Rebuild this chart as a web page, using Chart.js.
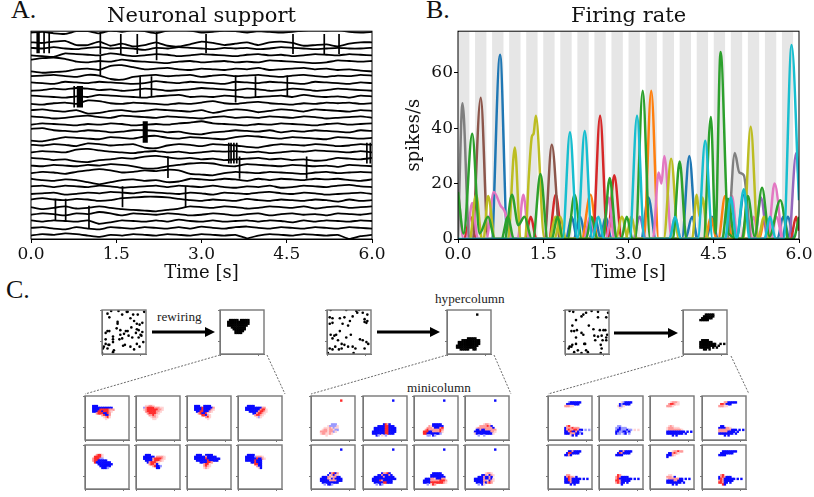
<!DOCTYPE html>
<html>
<head>
<meta charset="utf-8">
<title>Neuronal support and firing rate</title>
<script src="https://cdn.jsdelivr.net/npm/chart.js@4"></script>
<style>
  html, body { margin: 0; padding: 0; background: #fff; overflow: hidden; }
  #page { position: relative; width: 814px; height: 497px; }
  #page canvas { position: absolute; }
  .blurry { filter: blur(0.45px); }
  .soft { filter: blur(0.3px); }
  .note { position: absolute; font-family: "Liberation Serif", serif; color: #222; white-space: nowrap; }
  .letter { font-size: 26px; color: #111; }
  .small { font-size: 13.2px; }
  svg { position: absolute; left: 0; top: 0; pointer-events: none; }
</style>
</head>
<body>
<div id="page">
  <div class="note letter" style="left:11px;top:-5px">A.</div>
  <div class="note letter" style="left:426px;top:-5px">B.</div>
  <div class="note letter" style="left:6px;top:275px">C.</div>
  <div class="note small" style="left:157px;top:309px">rewiring</div>
  <div class="note small" style="left:435px;top:291px">hypercolumn</div>
  <div class="note small" style="left:407px;top:380px">minicolumn</div>
  <svg width="814" height="497">
    <g stroke="#444" stroke-width="0.8" stroke-dasharray="2 1.5" fill="none">
      <path d="M220 355 L85 394 M267 355 L285 394"/>
      <path d="M447 355 L311 394 M494 355 L511 394"/>
      <path d="M683 356 L548 394 M731 356 L749 394"/>
    </g>
    <g stroke="#000" stroke-width="3" fill="#000">
      <path d="M152 332 L206 332"/><path d="M205 327 L215 332 L205 337 Z" stroke="none"/>
      <path d="M377 332 L431 332"/><path d="M430 327 L440 332 L430 337 Z" stroke="none"/>
      <path d="M614 333 L669 333"/><path d="M668 328 L678 333 L668 338 Z" stroke="none"/>
    </g>
  </svg>
</div>

<script>
// ---- Panel A: membrane traces, offsets in tenths of a row, one sample each 0.2 s
const traceTimes = [0,0.2,0.4,0.6,0.8,1,1.2,1.4,1.6,1.8,2,2.2,2.4,2.6,2.8,3,3.2,3.4,3.6,3.8,4,4.2,4.4,4.6,4.8,5,5.2,5.4,5.6,5.8,6];
const traceOffsets = [
  [-2,-3,-1,0,-4,-4,-1,-5,-3,-6,-4,-1,-5,-6,-5,-2,-3,-5,-4,-2,-4,-3,-2,-3,-5,-6,-5,-6,-3,-2,-3],
  [2,3,1,0,6,6,1,7,4,8,6,2,7,8,5,1,3,6,4,2,6,2,1,3,7,6,5,8,4,2,2],
  [0,1,-1,1,2,0,-1,1,0,1,3,0,1,-1,0,1,2,0,1,0,2,1,-1,0,1,2,1,0,1,1,0],
  [1,2,3,-2,-1,0,1,-2,0,2,1,-1,0,2,1,-1,0,1,2,0,-1,1,0,2,1,-1,0,1,-1,0,1],
  [-3,-5,-6,-4,0,1,-1,0,-3,-1,0,1,2,0,-1,1,0,-1,1,0,1,-2,-1,0,1,2,1,-2,-1,0,-1],
  [4,6,5,4,1,0,2,-4,-5,-2,1,0,-1,1,2,0,1,2,0,1,-1,2,1,0,-1,1,0,2,1,3,4],
  [1,0,-1,1,2,-1,0,5,6,2,0,-1,1,0,-1,2,0,-1,1,0,-1,1,2,0,-1,1,2,0,1,-1,0],
  [0,1,2,-1,0,1,-1,0,1,2,1,-2,0,1,-1,0,1,2,-1,0,1,-1,0,1,2,-1,0,1,2,0,1],
  [2,1,-1,0,-2,-1,1,0,2,1,-1,0,2,1,0,-2,-1,0,1,-1,0,2,1,-1,0,2,1,-1,0,1,2],
  [-1,0,1,2,0,1,-2,-1,0,1,2,0,-1,-2,1,0,1,-1,0,2,1,0,-1,1,-2,0,1,0,2,-1,0],
  [1,2,0,-1,1,-4,-3,0,1,-1,0,1,2,0,1,-1,-3,0,1,-1,-2,0,1,2,0,1,-1,0,-1,1,0],
  [0,-1,1,2,0,5,4,1,0,2,1,-1,0,1,2,0,4,1,-1,0,3,1,-1,0,2,-1,0,1,2,0,1],
  [-1,0,2,1,-1,-2,0,1,-2,-1,0,1,-1,0,1,2,0,-1,1,0,1,-1,0,1,-1,0,2,1,0,-1,1],
  [1,-1,0,1,2,0,1,-1,0,2,1,0,1,-1,-2,-4,-1,0,1,2,0,1,-1,0,1,2,0,-1,1,0,-1],
  [-3,-4,-1,0,1,-1,0,2,1,-1,-1,0,2,1,4,5,2,1,-1,0,1,-1,2,0,1,-1,0,1,2,-1,0],
  [4,5,2,-1,0,1,2,-1,0,1,-2,-3,0,1,-1,0,1,2,-1,-3,-2,0,1,-1,0,1,2,-1,0,1,0],
  [0,1,-1,0,2,-2,-1,1,0,-1,4,5,1,-1,0,2,-1,0,1,3,4,1,-1,0,1,-1,0,2,1,-1,0],
  [1,-1,0,1,-3,-4,-2,0,1,2,0,-1,1,0,2,1,-1,0,-1,1,0,2,1,-1,0,-2,-1,0,1,-1,1],
  [-1,0,2,1,4,5,2,1,-1,0,-3,-4,-2,0,-1,1,0,2,1,0,-1,1,0,2,1,3,2,-1,0,1,-1],
  [0,1,-1,0,1,-1,0,-2,-1,1,4,4,1,-1,-3,-4,-3,0,1,-2,-1,0,1,-1,0,1,0,2,-1,0,1],
  [1,-1,0,2,-1,-3,-5,-3,0,-1,-3,-2,-4,-3,2,3,4,1,-1,0,1,-1,0,1,2,0,-1,1,0,-1,0],
  [-1,1,2,0,1,4,7,4,1,0,2,1,4,3,-1,0,1,-1,0,2,-1,1,-1,0,1,-1,0,-1,1,2,0],
  [0,-1,1,-1,0,1,-1,0,2,1,0,-1,1,-1,0,1,-1,1,2,0,1,-1,2,1,-1,0,1,-1,-2,0,1],
  [1,0,-1,2,1,-1,0,-2,-1,0,-2,-1,0,1,-1,0,2,-1,0,1,-1,-2,0,1,-1,0,2,1,0,-1,1],
  [-1,-3,-1,0,-2,-1,1,0,-3,-4,-5,-5,-4,-2,0,1,-1,0,1,-2,0,1,-1,0,1,-1,0,2,-1,1,0],
  [0,3,1,-1,2,1,-1,1,3,4,5,6,4,2,-1,0,1,-1,0,2,1,-1,0,1,-1,2,0,-1,1,0,-1],
  [1,-1,0,2,-1,0,-3,-1,2,-1,0,1,-1,0,2,1,-1,0,2,0,-1,2,0,-1,1,0,2,-1,0,1,-1],
  [-1,1,-1,0,1,-1,4,2,-1,0,1,-1,1,-2,0,1,-1,1,0,-1,1,-1,0,2,-1,1,-1,0,1,-1,0],
  [0,-1,1,2,-1,1,2,-1,0,1,-1,0,1,-1,1,-2,0,1,-1,-2,0,1,-1,0,1,-1,0,1,-1,0,1],
  [1,-1,0,-2,-1,1,3,0,1,-1,0,1,-1,0,1,-1,0,1,0,5,1,-1,0,1,-1,0,1,0,6,2,0]
];
const eventTimes = [0.11,0.14,0.23,0.32,1.22,1.22,1.58,1.87,2.21,3.08,4.61,5.16,5.42,1.92,2.12,3.60,3.95,4.51,0.76,0.82,0.84,0.86,0.88,0.90,1.98,2.00,2.02,2.04,3.48,3.52,3.57,3.62,3.67,2.41,4.85,5.91,5.97,1.61,2.72,0.43,0.61,1.02];
const eventFrom  = [-0.3,-0.3,-0.3,-0.3,-0.3,3.1,0,0,-0.3,0,0,0,0,6.1,6.1,6,6.1,6,7.5,7.5,7.5,7.5,7.5,7.5,12.6,12.6,12.6,12.6,15.7,15.7,15.7,15.7,17.7,17.7,17.7,15.7,15.7,22,22,23.8,23.8,24.8];
const eventTo    = [2.8,2.8,2.8,2.8,2.9,6,2.9,2.9,3.8,2.8,2.9,2.9,2.9,9.1,9.1,9.9,9.1,9.1,10.6,10.6,10.6,10.6,10.6,10.6,15.7,15.7,15.7,15.7,18.7,18.7,18.7,18.7,20.9,20.8,20.9,18.7,18.7,25,25,27,27,28];
const timeTicks = [0,1.5,3,4.5,6];

// ---- Panel B: firing rate, spikes/s at hand-read knots
const rateTicks = [0,20,40,60];
const bandStarts = [0,0.3,0.6,0.9,1.2,1.5,1.8,2.1,2.4,2.7,3,3.3,3.6,3.9,4.2,4.5,4.8,5.1,5.4,5.7];
const bandEnds   = [0.2,0.5,0.8,1.1,1.4,1.7,2,2.3,2.6,2.9,3.2,3.5,3.8,4.1,4.4,4.7,5,5.3,5.6,5.9];

const blueT = [0.61,0.74,0.87,1.9,2.0,2.1,2.5,2.6,2.7,3.22,3.35,3.48,3.94,4.07,4.2,4.37,4.47,4.57,4.9,5.03,5.16,5.7,5.8,5.9];
const blueR = [0,66.5,0,0,8,0,0,8,0,0,15,0,0,30,0,0,8,0,0,16,0,0,8,0];
const orangeT = [2.2,2.33,2.46,3.27,3.4,3.53,4.35,4.45,4.55,4.58,4.7,4.83,5.3,5.4,5.5];
const orangeR = [0,16,0,0,53.5,0,0,8,0,0,15.5,0,0,8,0];
const greenT = [0,0.1,0.25,0.38,0.53,0.65,0.82,0.95,1.06,1.17,1.3,1.32,1.45,1.58,1.93,2.05,2.18,2.55,2.67,2.79,3.12,3.25,3.38,3.78,3.9,4.02,4.32,4.45,4.53,4.62,4.76,5.0,5.1,5.22,5.35,5.48,5.67,5.8];
const greenR = [17,2,38,2,8,0,0,16,5,8,0,0,23.5,0,0,16,0,0,22,0,0,53.5,0,0,28,0,0,44,2,67.5,2,0,15.5,1,18.5,1,14,0];
const greenSmallT = [0.78,0.88,0.98,1.65,1.75,1.85,2.25,2.35,2.45,2.87,2.97,3.07,4.65,4.75,4.87,5.9,6.0];
const greenSmallR = [0,8,0,0,8,0,0,8,0,0,8,0,0,14.5,0,0,8];
const redT = [0.12,0.22,0.32,1.18,1.28,1.38,1.6,1.72,1.84,2.37,2.5,2.63,2.75,2.88,5.85,5.95,6.0];
const redR = [0,8,0,0,8,0,0,16,0,0,44.5,0,23,0,0,8,3];
const purpleT = [3.1,3.2,3.3,5.22,5.33,5.45,5.82,5.95,6.0];
const purpleR = [0,8,0,0,15,0,0,31,20];
const brownT = [0.27,0.4,0.53,1.52,1.65,1.78];
const brownR = [0,51,0,0,34,0];
const pinkT = [0,0.1,0.15,0.25,0.35,0.5,0.63,0.75,0.82,0.95,1.05,1.15,1.25,2.55,2.65,2.75,3.43,3.53,3.58,3.63,3.76,4.72,4.82,4.92,5.1,5.2,5.3,5.45,5.57,5.7];
const pinkR = [18,0,0,13,0,0,17,12,10,0,0,16,0,0,15,0,0,24,20,30,0,0,15.5,0,0,8,0,0,20,0];
const pinkSmallT = [2.23,2.33,2.43,2.6,2.7,2.8,3.72,3.82,3.92,4.98,5.08,5.18,5.5,5.6,5.7];
const pinkSmallR = [0,8,0,0,8,0,0,8,0,0,8,0,0,8,0];
const blueSmallT = [2.05,2.15,2.25,2.31,2.41,2.51,4.0,4.12,4.22,5.62,5.72,5.82];
const blueSmallR = [0,8,0,0,8,0,0,8,0,0,8,0];
const grayT = [0,0.08,0.2,4.74,4.87,4.95,5.03,5.14];
const grayR = [0,49,0,0,31,24,23,0];
const oliveT = [0.22,0.32,0.42,0.45,0.53,0.65,0.88,1.0,1.1,1.18,1.25,1.3,1.33,1.37,1.52,1.7,1.8,1.9,2.95,3.05,3.15,3.62,3.75,3.88,4.12,4.2,4.25,4.3,4.4,5.02,5.15,5.28,5.38,5.48];
const oliveR = [0,16,0,0,15.5,0,0,33,0,0,24,37,38,44.5,0,0,8,0,0,8,0,0,29,0,0,16,8,15,0,0,40.5,0,8,0];
const oliveSmallT = [1.62,1.72,1.82,2.78,2.88,2.98];
const oliveSmallR = [0,8,0,0,8,0];
const cyanT = [0,1.84,1.97,2.1,2.23,2.36,2.47,2.57,3.02,3.15,3.28,3.72,3.82,3.92,4.22,4.35,4.48,4.7,4.8,4.9,5.03,5.13,5.39,5.49,5.59,5.73,5.87,6.0];
const cyanR = [0,0,38.5,0,39,0,8,0,0,44.5,0,0,8,0,0,35.5,0,0,15,0,18,0,0,8,0,0,70,14];
const seriesColors = ['#1f77b4','#1f77b4','#ff7f0e','#d62728','#9467bd','#8c564b','#e377c2','#e377c2','#7f7f7f','#bcbd22','#bcbd22','#2ca02c','#2ca02c','#17becf'];
const seriesTimes = [blueT,blueSmallT,orangeT,redT,purpleT,brownT,pinkT,pinkSmallT,grayT,oliveT,oliveSmallT,greenSmallT,greenT,cyanT];
const seriesRates = [blueR,blueSmallR,orangeR,redR,purpleR,brownR,pinkR,pinkSmallR,grayR,oliveR,oliveSmallR,greenSmallR,greenR,cyanR];

// ---- Panel C: scatter before rewiring, x,y on a 48 unit frame
const dotsBefore1 = [[6,4],[10,1],[18,1],[27,2],[28,2],[34,5],[39,5],[8,8],[22,5],[17,13],[17,15],[31,9],[35,12],[38,15],[44,14],[41,16],[6,23],[8,23],[4,25],[16,20],[20,22],[26,23],[28,23],[24,26],[32,19],[38,21],[40,22],[44,24],[42,27],[40,30],[20,27],[22,31],[19,32],[29,28],[33,30],[37,25],[12,29],[12,32],[12,35],[4,32],[4,37],[7,38],[2,40],[1,42],[6,42],[8,38],[23,39],[25,38],[31,40],[35,43],[38,37],[41,40],[13,44],[0,47],[12,46],[43,28],[45,35],[46,2]];
const dotsBefore2 = [[4,0],[21,0],[32,1],[35,0],[3,8],[6,9],[14,9],[19,8],[28,7],[33,3],[39,3],[44,5],[41,10],[44,12],[41,13],[6,14],[3,15],[17,15],[25,12],[23,17],[43,14],[4,27],[8,28],[14,23],[10,27],[6,31],[26,27],[21,30],[12,33],[16,37],[19,38],[23,40],[28,40],[36,32],[39,33],[43,35],[45,37],[3,42],[6,43],[13,43],[16,42],[31,42],[41,42],[9,40],[1,47],[29,47]];
const dotsBefore3 = [[5,1],[9,2],[20,5],[23,3],[29,1],[36,2],[36,8],[45,8],[12,11],[18,7],[26,17],[8,17],[7,23],[10,23],[13,22],[18,25],[20,27],[31,21],[38,22],[42,22],[44,22],[46,27],[45,30],[45,33],[40,28],[36,29],[33,33],[41,33],[32,28],[12,30],[21,37],[22,37],[5,40],[7,40],[8,38],[4,42],[12,37],[39,38],[40,42],[18,47],[23,44],[14,44],[10,46],[25,46],[39,47],[47,3]];

// cell strings: "row col cells|..." on a 24 cell grid. k black, b/B blue, r/R/p red shades
const blobAfter1 = '5 5 kkkkk.kkkkk|6 4 kkkkkkkkkkkk|7 4 kkkkkkkkkkkk|8 4 kkkkkkkkkkk|9 6 kkkkkkkk|10 7 kkkkkkk|11 8 kkkkk|12 8 kkkk';
const blobAfter2 = '2 16 k|15 11 kkkkk|16 8 kkkkkkkkkk|17 6 kkkkkkkkkkkk|18 6 kkkkkkkkkkkk|19 5 kkkkkkkkkkkk|20 5 kkkkkkkkkkk|21 7 kkkkk..kk';
const blobAfter3 = '2 12 kkkkk|3 11 kkkkkk|4 10 kkkkkk|5 9 kkkkk|16 10 kkkk|17 9 kkkkkkk|18 9 kkkkkkkkk..k.k|19 9 kkkkkkkkk.k|20 9 kkkkkk.k.k|21 11 kk.k';
const tiles1 = [
  '5 4 bbb|6 4 bbbbbbbbbbb|7 4 bbbbrrrrrRRR|8 4 bbbrrbrrrRp|9 6 RrrrbbrR|10 9 RrbbR|11 10 pRrp|12 11 p',
  '5 5 ppRRp|6 4 BRrrrrRRRpp|7 4 pRrrrrrrRRp|8 5 RrrrrrRRp|9 6 RrrrrRp|10 7 RRrRp|11 8 pRRp|12 9 pp',
  '5 4 bbb..bbbb|6 4 bbbbrbbbbbR|7 4 bbbbrbbbbRp|8 5 bbrrbbbRp|9 6 Rrbbrp|10 8 rrbRp|11 10 Rrp|12 11 p',
  '5 5 bbbb|6 4 bbbbbbbbbRR|7 4 bbbbbbbbRrrp|8 6 bbbbbRrrRp|9 8 bbRrrRp|10 9 RrrRp|11 10 pBp',
  '5 6 Rrrp|6 5 rrrrp|7 4 RrrrBB|8 4 Rrrbbbbb|9 5 rbbbbbbbb|10 7 bbbbbbbb|11 8 bbbbbb|12 9 bbbB',
  '5 5 bbb|6 4 bbbbbb.RRRRp|7 4 bbbbbRrrrrRp|8 5 bbbbRrrrRp|9 6 bRrrrRp|10 7 RrrRb|11 9 RrbbB|12 11 bb',
  '5 5 bbb..bbbb|6 4 bbbbbbRbbbbb|7 4 bbbbbbrbbbbbbb|8 5 bbbbbbrbbbbb|9 7 bbbbrrR|10 9 Rrrp|11 9 RrRp|12 9 pRp',
  '5 5 bbbb|6 4 bbbbbBRRRp|7 4 bbbbbbrbbRp|8 4 bbbbbrbbb|9 7 bbrbbb|10 9 rrbb|11 10 Rbb|12 11 pb'
];
const tiles2 = [
  '2 16 r|15 11 BBB|16 9 pBBBBp|17 7 pppRpBpp|18 6 pRRpRRpBB|19 5 RRRRpRRBp|20 5 pRRppRp|21 8 p',
  '2 16 b|15 11 brRb|16 8 bbbbrrbbb|17 6 bbbbbbrrbbbb|18 6 bbbbbbrrbbbb|19 5 bbbbbbbrrbbbb|20 5 bbbbbbbrrbbb|21 7 bB.p.B',
  '2 16 b|15 10 bbbbb|16 8 Rpbbbbbb|17 7 RRRpbbbRr|18 6 RrRRRRRRrR|19 5 rrrbbRRRRrp|20 5 rrbbbbbbbB|21 7 BB.bB',
  '2 16 b|15 10 pRRp|16 8 RRRRrRb|17 6 pRRRRRRRRb|18 6 bbRbbRRRRRR|19 5 bbbbbbbbbRRp|20 5 pbbbbbbbbbp|21 7 B..B',
  '2 16 b|15 10 bRrbR|16 9 bpRbRp|17 6 bbbRRpRRbb|18 5 bbbbRpbRbbbb|19 5 bbbbbRRRRbbb|20 6 bbbbbbbbb|21 7 B.bbB',
  '2 16 b|15 10 bRRrb|16 8 bbRbbbRb|17 6 bbbbbRbbbbb|18 5 bbbbbbbbbbbbb|19 5 bbbbrRbbbbb|20 6 bbbbbrrbbb|21 7 B.bB',
  '2 16 b|15 10 bbbbb|16 9 bbbbbbb|17 9 bbbbbbbb|18 6 bbbRRpbbbRR|19 5 bbbbRRRRRrrrR|20 5 bbbbrrrrrrrRp|21 7 B.prR',
  '2 16 b|15 11 pRRp|16 9 bbRpbRp|17 7 bbbRbbRb|18 5 bbbbbRbbRbp|19 5 bbbbbRRpbRp|20 6 bbbbRbRrR|21 7 B.bp'
];
const tiles3 = [
  '3 11 Bbbbbbb|4 10 bbbbbbb|5 9 RRRpp|16 10 Rr|17 9 bRRRrRRR|18 9 bRrRRrrRbb.B.B|19 9 bbRrbbRbB|20 9 bbbRRRbb.b|21 12 pb.b',
  '3 12 pBbbbb|4 11 bBbbbb|5 10 pbBp|6 11 p|16 10 BB|17 9 BBbBBB|18 9 BbbBBBbBB.p.p|19 9 bbBBbbBb|20 9 bBB.Bb.B',
  '3 11 pRRRp|4 10 RrrRpp|5 9 RRRp|16 10 pRp|17 9 pRRRppp|18 9 pRRRRRRRp|19 9 bbbbbbbbbb.b.b|20 9 bbbbbbbbb.b|21 12 b.b',
  '3 12 RRbbbbb|4 10 rrRbbb|5 9 RRRpp|16 10 bb|17 9 bbbbRRp|18 9 RRRRRRRbbb.b.b|19 9 RRRRRbbbb.b|20 9 bbbbbbbb.b|21 12 b.b',
  '3 11 bbRbbbb|4 10 brrbbbb|5 9 bbRb|16 10 RR|17 9 bRrRRpb|18 9 bbrRbbbbb.b.b|19 9 bbrRbbbb|20 9 bbbRbbbb|21 12 b.b',
  '3 11 bbRbbbb|4 10 brRbbbb|5 9 bbbb|16 10 rR|17 9 RrRbbbb|18 9 Rrbbbbbbb.b.b|19 9 rrRbbbbb|20 9 RrRbb.b|21 12 b',
  '3 12 pRRrRR|4 10 bbRrRp|5 9 bbbRp|6 9 b|16 10 pp|17 9 RRRpb|18 9 pRRRRRRbb.b.b|19 9 bbbbRRbbb|20 9 bbbbbbbb.b|21 12 b.b',
  '3 11 bbbbbbbb|4 10 bbbbbbb|5 9 bbbb|16 10 Rr|17 9 bRrRbbb|18 9 brRbbbbbb.b.b|19 9 RrRbbbbb|20 9 rrRbb.b|21 11 rb'
];
const cellColors = { k: '#000', b: '#0a0aff', B: '#9a9aff', r: '#ff2a2a', R: '#ff9a9a', p: '#ffd4d4' };

const SERIF = '"DejaVu Serif", serif';
const page = document.getElementById('page');

// matplotlib style box round the axes
Chart.register({
    id: 'frameBox',
    afterDraw(chart, args, opts) {
        const a = chart.chartArea, ctx = chart.ctx;
        ctx.save();
        ctx.strokeStyle = opts.color || '#000';
        ctx.lineWidth = opts.width || 1;
        ctx.strokeRect(a.left, a.top, a.right - a.left, a.bottom - a.top);
        ctx.restore();
    }
});

function addCanvas(left, top, w, h, cls) {
    const c = document.createElement('canvas');
    c.width = w;
    c.height = h;
    c.style.left = left + 'px';
    c.style.top = top + 'px';
    c.style.width = w + 'px';
    c.style.height = h + 'px';
    if (cls) c.className = cls;
    page.insertBefore(c, page.querySelector('svg'));
    return c;
}

function timeAxis() {
    return {
        type: 'linear', min: 0, max: 6,
        afterBuildTicks: s => { s.ticks = timeTicks.map(v => ({ value: v })); },
        afterFit: s => { s.height = 45; },
        ticks: { color: '#111', font: { family: SERIF, size: 17 }, callback: v => v.toFixed(1), maxRotation: 0, autoSkip: false, padding: 1 },
        grid: { drawOnChartArea: false, color: '#000', tickLength: 4 },
        border: { color: '#000' },
        title: { display: true, text: 'Time [s]', color: '#111', font: { family: SERIF, size: 18 }, padding: { top: 0, bottom: 0 } }
    };
}

function panelTitle(text) {
    return { display: true, text, fullSize: false, color: '#111', font: { family: SERIF, size: 21, weight: 'normal' }, padding: { top: 4, bottom: 2 } };
}

// ---- A
const traceSets = traceOffsets.map((offs, row) => ({
    data: offs.map((o, i) => ({ x: traceTimes[i], y: row + o / 10 })),
    showLine: true, borderColor: '#000', borderWidth: 1.8, pointRadius: 0, tension: 0.15
}));
const eventPoints = [];
eventTimes.forEach((t, i) => {
    eventPoints.push({ x: t, y: eventFrom[i] }, { x: t, y: eventTo[i] }, { x: t, y: NaN });
});
traceSets.unshift({ data: eventPoints, showLine: true, borderColor: '#000', borderWidth: 1.7, pointRadius: 0, spanGaps: false });

new Chart(addCanvas(0, 0, 403, 284, 'soft'), {
    type: 'scatter',
    data: { datasets: traceSets },
    options: {
        responsive: false, animation: false,
        layout: { padding: { left: 31, right: 31 } },
        plugins: { legend: { display: false }, tooltip: { enabled: false }, title: panelTitle('Neuronal support'), frameBox: { color: '#000' } },
        scales: {
            x: timeAxis(),
            y: { type: 'linear', min: -0.4, max: 29.6, reverse: true, display: false }
        }
    }
});

// ---- B
const bandPoints = [];
bandStarts.forEach((s, i) => {
    bandPoints.push({ x: s, y: 0 }, { x: s, y: 75 }, { x: bandEnds[i], y: 75 }, { x: bandEnds[i], y: 0 });
});
const rateSets = seriesTimes.map((times, k) => ({
    data: times.map((t, i) => ({ x: t, y: seriesRates[k][i] })),
    showLine: true, borderColor: seriesColors[k], borderWidth: 2.5, pointRadius: 0,
    cubicInterpolationMode: 'monotone', order: seriesTimes.length - k
}));
rateSets.push({ data: bandPoints, showLine: true, borderWidth: 0, pointRadius: 0, fill: 'origin', backgroundColor: '#e6e6e6', order: 99 });

new Chart(addCanvas(404, 0, 410, 284, 'soft'), {
    type: 'scatter',
    data: { datasets: rateSets },
    options: {
        responsive: false, animation: false,
        layout: { padding: { right: 15 } },
        plugins: { legend: { display: false }, tooltip: { enabled: false }, title: panelTitle('Firing rate'), frameBox: { color: '#000' }, filler: { propagate: false } },
        scales: {
            x: timeAxis(),
            y: {
                type: 'linear', min: 0, max: 75,
                afterBuildTicks: s => { s.ticks = rateTicks.map(v => ({ value: v })); },
                afterFit: s => { s.width = 54; },
                ticks: { color: '#111', font: { family: SERIF, size: 17 }, padding: 1 },
                grid: { drawOnChartArea: false, color: '#000', tickLength: 4 },
                border: { color: '#000' },
                title: { display: true, text: 'spikes/s', color: '#111', font: { family: SERIF, size: 18 }, padding: { top: 0, bottom: 0 } }
            }
        }
    }
});

// ---- C
function parseCells(str) {
    const out = [];
    str.split('|').forEach(part => {
        const [row, col, cells] = part.split(' ');
        [...cells].forEach((ch, i) => {
            if (ch !== '.') out.push({ x: (+col + i) * 2 + 1, y: +row * 2 + 1, c: cellColors[ch] });
        });
    });
    return out;
}

function miniAxes(fit, ticks, reverse) {
    return {
        type: 'linear', min: 0, max: 48, reverse,
        afterBuildTicks: s => { s.ticks = ticks.map(v => ({ value: v })); },
        afterFit: fit,
        ticks: { display: false },
        grid: { drawOnChartArea: false, color: '#777', tickLength: 2 },
        border: { color: '#777' }
    };
}

function miniChart(left, top, w, h, points, style, radius) {
    new Chart(addCanvas(left - 4, top - 2, w + 5, h + 5, 'blurry'), {
        type: 'scatter',
        data: { datasets: [{
            data: points, pointStyle: style, pointRadius: radius, pointBorderWidth: 0,
            pointBackgroundColor: ctx => (ctx.raw && ctx.raw.c) || '#000'
        }] },
        options: {
            responsive: false, animation: false,
            layout: { padding: { top: 1, right: 1 } },
            plugins: { legend: { display: false }, tooltip: { enabled: false }, frameBox: { color: '#777', width: 1.4 } },
            scales: {
                x: miniAxes(s => { s.height = 3; }, [0, 42], false),
                y: miniAxes(s => { s.width = 3; }, [0, 34], true)
            }
        }
    });
}

const dotPoints = list => list.map(p => ({ x: p[0], y: p[1] }));
const groups = [
    { before: dotsBefore1, beforeX: 102, after: blobAfter1, afterX: 220, tiles: tiles1, tileX: [85, 136, 187, 238] },
    { before: dotsBefore2, beforeX: 327, after: blobAfter2, afterX: 447, tiles: tiles2, tileX: [311, 363, 414, 465] },
    { before: dotsBefore3, beforeX: 565, after: blobAfter3, afterX: 683, tiles: tiles3, tileX: [548, 599, 650, 702] }
];
groups.forEach(g => {
    miniChart(g.beforeX, 308, 47, 47, dotPoints(g.before), 'circle', 1.3);
    miniChart(g.afterX, 308, 47, 47, parseCells(g.after), 'rect', 1.7);
    g.tiles.forEach((t, i) => {
        miniChart(g.tileX[i % 4], i < 4 ? 394 : 443, 47, 47, parseCells(t), 'rect', 1.7);
    });
});
</script>
</body>
</html>
